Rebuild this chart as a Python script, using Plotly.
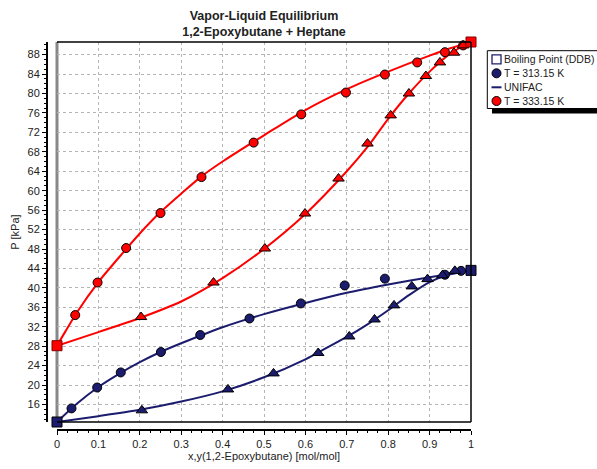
import plotly.graph_objects as go

NAVY = "#1c1c6e"
RED = "#ff0000"

# ---- experimental data, T = 313.15 K ----
x_313 = [0.035, 0.097, 0.154, 0.251, 0.346, 0.465, 0.589, 0.695, 0.792, 0.937, 0.976]
px_313 = [15.2, 19.5, 22.6, 26.8, 30.3, 33.7, 36.8, 40.5, 41.9, 42.7, 43.5]
y_313 = [0.205, 0.413, 0.523, 0.631, 0.706, 0.767, 0.814, 0.857, 0.895, 0.931, 0.961]
py_313 = [14.8, 19.1, 22.4, 26.6, 30.0, 33.5, 36.4, 40.3, 41.8, 42.6, 43.5]

# ---- experimental data, T = 333.15 K ----
x_333 = [0.044, 0.098, 0.167, 0.250, 0.349, 0.475, 0.590, 0.698, 0.792, 0.870, 0.937, 0.981]
px_333 = [34.4, 41.1, 48.2, 55.4, 62.8, 69.9, 75.7, 80.2, 83.9, 86.4, 88.5, 89.9]
y_333 = [0.203, 0.378, 0.502, 0.599, 0.680, 0.750, 0.806, 0.850, 0.891, 0.925, 0.959, 0.981]
py_333 = [34.0, 41.1, 48.1, 55.3, 62.5, 69.7, 75.5, 80.0, 83.6, 86.4, 88.4, 89.9]

# ---- boiling points (pure components) ----
bp_x = [0, 1]
bp_313 = [12.4, 43.6]
bp_333 = [28.1, 90.6]

# ---- UNIFAC curves ----
uni_x_313 = [0, 0.05, 0.1, 0.15, 0.2, 0.25, 0.3, 0.4, 0.5, 0.6, 0.7, 0.8, 0.9, 1.0]
uni_px_313 = [12.4, 16.3, 19.6, 22.3, 24.7, 26.8, 28.6, 31.9, 34.6, 36.9, 39.0, 40.7, 42.2, 43.6]
uni_y_313 = [0, 0.1, 0.2, 0.3, 0.4, 0.5, 0.6, 0.65, 0.7, 0.75, 0.8, 0.85, 0.9, 0.95, 1.0]
uni_py_313 = [12.4, 13.6, 14.9, 16.6, 18.7, 21.6, 25.3, 27.6, 29.9, 32.5, 35.4, 38.5, 41.2, 42.8, 43.6]

uni_x_333 = [0, 0.02, 0.05, 0.1, 0.15, 0.2, 0.25, 0.3, 0.35, 0.4, 0.5, 0.6, 0.7, 0.8, 0.9, 0.95, 1.0]
uni_px_333 = [28.1, 31.0, 35.2, 41.2, 46.3, 51.2, 55.6, 59.4, 63.0, 66.0, 71.4, 76.6, 80.9, 84.5, 87.8, 89.3, 90.6]
uni_y_333 = [0, 0.1, 0.2, 0.3, 0.4, 0.5, 0.6, 0.7, 0.75, 0.8, 0.85, 0.9, 0.95, 1.0]
uni_py_333 = [28.1, 30.9, 33.8, 37.2, 42.0, 48.0, 55.2, 64.0, 69.0, 74.8, 80.0, 84.5, 88.2, 90.6]

# ---- legend entries ----
legend_labels = ["Boiling Point (DDB)", "T = 313.15 K", "UNIFAC", "T = 333.15 K"]

W, H = 597, 469
ML, MR, MT, MB = 47, 0, 42, 39
PW, PH = W - ML - MR, H - MT - MB
PLOT_L, PLOT_R = 57, 471          # pixel edges of plot area
PLOT_T, PLOT_B = 42, 422

FONT = "Arial, Liberation Sans, sans-serif"
TXT = "#222222"

fig = go.Figure()

line_kw = dict(mode="lines", line=dict(width=2, shape="spline", smoothing=0.8),
               hoverinfo="skip", showlegend=False)
fig.add_trace(go.Scatter(x=uni_x_333, y=uni_px_333, line_color=RED, **line_kw))
fig.add_trace(go.Scatter(x=uni_y_333, y=uni_py_333, line_color=RED, **line_kw))
fig.add_trace(go.Scatter(x=uni_x_313, y=uni_px_313, line_color=NAVY, **line_kw))
fig.add_trace(go.Scatter(x=uni_y_313, y=uni_py_313, line_color=NAVY, **line_kw))

mk_line = dict(color="black", width=1)
mk_kw = dict(mode="markers", showlegend=False, cliponaxis=False)
fig.add_trace(go.Scatter(x=x_313, y=px_313, marker=dict(symbol="circle", size=9, color=NAVY, line=mk_line), **mk_kw))
fig.add_trace(go.Scatter(x=y_313, y=py_313, marker=dict(symbol="triangle-up", size=10, color=NAVY, line=mk_line), **mk_kw))
fig.add_trace(go.Scatter(x=x_333, y=px_333, marker=dict(symbol="circle", size=9, color=RED, line=mk_line), **mk_kw))
fig.add_trace(go.Scatter(x=y_333, y=py_333, marker=dict(symbol="triangle-up", size=10, color=RED, line=mk_line), **mk_kw))
fig.add_trace(go.Scatter(x=bp_x, y=bp_313, marker=dict(symbol="square", size=10, color=NAVY, line=mk_line), **mk_kw))
fig.add_trace(go.Scatter(x=bp_x, y=bp_333, marker=dict(symbol="square", size=10, color=RED,
                                                        line=dict(color="#800000", width=1)), **mk_kw))

# ---- hand-made legend in a pixel-coordinate overlay axis (x2/y2) ----
LEG_X0 = 480
row_y = [59.3, 73.3, 87.3, 101.0]
sym_x = 496.5
fig.add_trace(go.Scatter(x=[sym_x], y=[row_y[0]], xaxis="x2", yaxis="y2",
                         marker=dict(symbol="square-open", size=9, color=NAVY, line=dict(width=1.3)), **mk_kw))
fig.add_trace(go.Scatter(x=[sym_x], y=[row_y[1]], xaxis="x2", yaxis="y2",
                         marker=dict(symbol="circle", size=9, color=NAVY, line=mk_line), **mk_kw))
fig.add_trace(go.Scatter(x=[sym_x - 5, sym_x + 5], y=[row_y[2], row_y[2]], xaxis="x2", yaxis="y2",
                         mode="lines", line=dict(color=NAVY, width=2), showlegend=False, hoverinfo="skip"))
fig.add_trace(go.Scatter(x=[sym_x], y=[row_y[3]], xaxis="x2", yaxis="y2",
                         marker=dict(symbol="circle", size=9, color=RED, line=mk_line), **mk_kw))
for lab, yy in zip(legend_labels, row_y):
    fig.add_annotation(x=501.5, y=yy, xref="x2", yref="y2", text=lab, showarrow=False,
                       xanchor="left", yanchor="middle", font=dict(size=10.5, color=TXT, family=FONT))
# legend shadow + box
fig.add_shape(type="rect", xref="x2", yref="y2", x0=492, x1=620, y0=56, y1=113.5,
              fillcolor="black", line=dict(width=0), layer="below")
fig.add_shape(type="rect", xref="x2", yref="y2", x0=487.3, x1=620, y0=50.7, y1=108.5,
              fillcolor="white", line=dict(color="black", width=1), layer="below")

# ---- plot frame: grey left edge, black top/right/bottom ----
fig.add_shape(type="line", xref="x domain", yref="y domain", x0=0, x1=0, y0=0, y1=1,
              line=dict(color="#888888", width=3), layer="below")
frame = dict(type="line", xref="x domain", yref="y domain", line=dict(color="black", width=1.5), layer="above")
fig.add_shape(x0=0, x1=1, y0=1, y1=1, **frame)
fig.add_shape(x0=1, x1=1, y0=0, y1=1, **frame)
fig.add_shape(x0=0, x1=1, y0=0, y1=0, **frame)

fig.update_layout(
    width=W, height=H,
    margin=dict(l=ML, r=MR, t=MT, b=MB, autoexpand=False),
    plot_bgcolor="white", paper_bgcolor="white",
    font=dict(family=FONT, size=11, color=TXT),
    title=dict(text="<b>Vapor-Liquid Equilibrium<br>1,2-Epoxybutane + Heptane</b>",
               x=(264 - ML) / PW, xref="paper", xanchor="center",
               y=1 - 20 / H, yref="container", yanchor="middle",
               font=dict(size=12.5, color=TXT)),
    showlegend=False,
    xaxis=dict(domain=[(PLOT_L - ML) / PW, (PLOT_R - ML) / PW], anchor="free", position=0,
               range=[0, 1], tick0=0, dtick=0.1,
               showline=True, linecolor="black", linewidth=2,
               ticks="outside", ticklen=4, tickcolor="black", tickwidth=1,
               minor=dict(dtick=0.025, ticks="outside", ticklen=2, tickcolor="black", showgrid=False),
               showgrid=True, gridcolor="#b4b4b4", griddash="dot", gridwidth=1,
               zeroline=False,
               title=dict(text="x,y(1,2-Epoxybutane) [mol/mol]", standoff=1, font=dict(size=11)),
               automargin=False),
    yaxis=dict(domain=[(H - MB - PLOT_B) / PH, 1], anchor="free", position=0,
               range=[12.4, 90.6], tick0=0, dtick=4,
               showline=True, linecolor="black", linewidth=2,
               ticks="outside", ticklen=4, tickcolor="black", tickwidth=1,
               minor=dict(dtick=1, ticks="outside", ticklen=2, tickcolor="black", showgrid=False),
               showgrid=True, gridcolor="#b4b4b4", griddash="dot", gridwidth=1,
               zeroline=False,
               title=dict(text="P [kPa]", standoff=5, font=dict(size=11)),
               automargin=False),
    xaxis2=dict(domain=[(LEG_X0 - ML) / PW, 1], range=[LEG_X0, W], anchor="y2",
                visible=False, fixedrange=True),
    yaxis2=dict(domain=[0, 1], range=[H - MB, MT], anchor="x2",
                visible=False, fixedrange=True),
)

fig.write_html("out.html")
